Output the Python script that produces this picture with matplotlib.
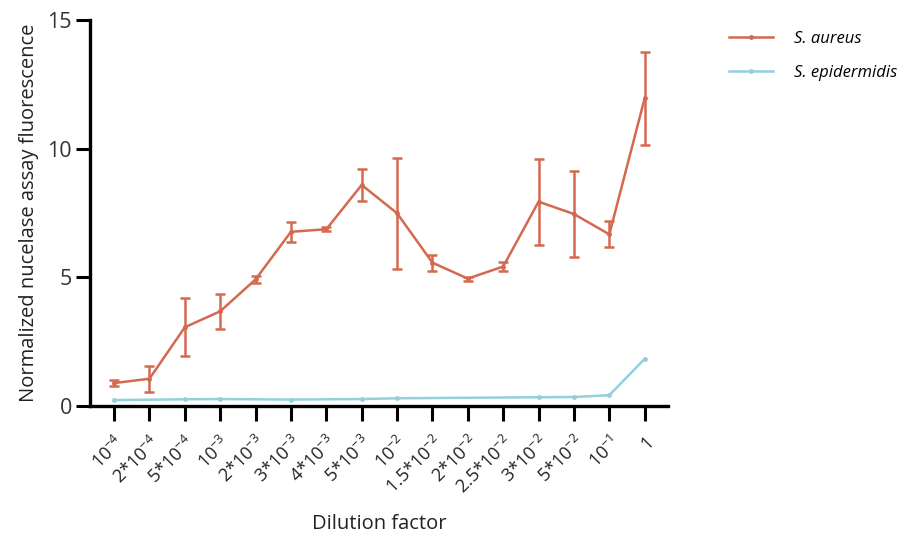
import numpy as np
import matplotlib.pyplot as plt
from matplotlib.lines import Line2D

plt.rcParams["font.family"] = ["Open Sans", "DejaVu Sans"]
plt.rcParams["mathtext.fontset"] = "custom"
plt.rcParams["mathtext.rm"] = "Open Sans"
plt.rcParams["mathtext.it"] = "Open Sans:italic"

# dilution factors (categorical x axis)
dilutions = [r"$10^{-4}$", r"2*$10^{-4}$", r"5*$10^{-4}$", r"$10^{-3}$",
             r"2*$10^{-3}$", r"3*$10^{-3}$", r"4*$10^{-3}$", r"5*$10^{-3}$",
             r"$10^{-2}$", r"1.5*$10^{-2}$", r"2*$10^{-2}$", r"2.5*$10^{-2}$",
             r"3*$10^{-2}$", r"5*$10^{-2}$", r"$10^{-1}$", "1"]

aureus_mean = [0.89, 1.06, 3.06, 3.68, 4.92, 6.77, 6.87, 8.59,
               7.49, 5.57, 4.95, 5.42, 7.94, 7.46, 6.67, 11.96]
aureus_err = [0.11, 0.50, 1.13, 0.69, 0.13, 0.39, 0.08, 0.63,
              2.16, 0.31, 0.08, 0.16, 1.67, 1.68, 0.51, 1.81]

# S. epidermidis was only measured at some of the dilutions
epi_idx = [0, 2, 3, 5, 7, 8, 12, 13, 14, 15]
epi_mean = [0.23, 0.26, 0.27, 0.25, 0.27, 0.30, 0.34, 0.35, 0.42, 1.83]

red = "#d4694f"
blue = "#93d0dc"

fig = plt.figure(figsize=(9.12, 5.34), dpi=100)
ax = fig.add_axes([0.0987, 0.2397, 0.6338, 0.7228])

x = np.arange(len(dilutions))
ax.errorbar(x, aureus_mean, yerr=aureus_err, color=red, lw=1.8,
            marker="o", ms=2.5, capsize=3.5, capthick=1.8, elinewidth=1.8)
ax.plot(epi_idx, epi_mean, color=blue, lw=1.8, marker="o", ms=2.5)

ax.set_xlim(-0.68, 15.66)
ax.set_ylim(0, 15)
ax.set_yticks([0, 5, 10, 15])
ax.set_xticks(x)
ax.set_xticklabels(dilutions, rotation=45, ha="right", va="top",
                   rotation_mode="anchor", fontsize=13)
ax.tick_params(axis="y", labelsize=15.5, length=10, width=2.2, color="black",
               labelcolor="#333333", pad=3)
ax.tick_params(axis="x", length=11, width=2.2, pad=8, labelcolor="#222222")

for side in ["top", "right"]:
    ax.spines[side].set_visible(False)
for side in ["left", "bottom"]:
    ax.spines[side].set_linewidth(2.4)

ax.set_ylabel("Normalized nucelase assay fluorescence", fontsize=14.5,
              color="#222222", labelpad=6)
ax.set_xlabel("Dilution factor", fontsize=14.5, color="#222222")
ax.xaxis.set_label_coords(0.5, -0.306)
ax.xaxis.label.set_va("center")

handles = [Line2D([], [], color=red, lw=1.8, marker="o", ms=2.5),
           Line2D([], [], color=blue, lw=1.8, marker="o", ms=2.5)]
ax.legend(handles, ["S. aureus", "S. epidermidis"], loc="upper left",
          bbox_to_anchor=(1.08, 1.01), frameon=False, handlelength=2.6,
          handletextpad=1.3, labelspacing=1.05,
          prop={"style": "italic", "size": 12})

fig.savefig("out.png", dpi=100)
